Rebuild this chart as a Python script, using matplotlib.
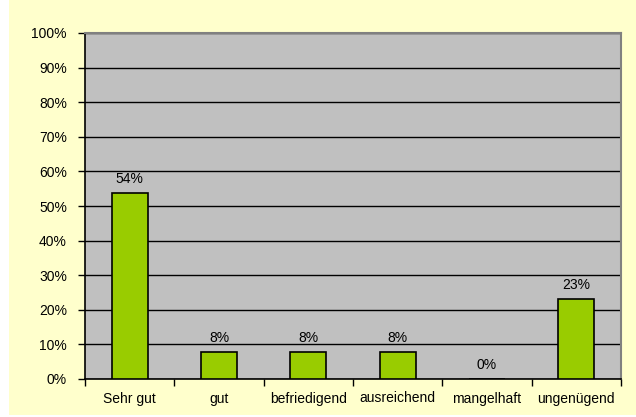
import matplotlib
matplotlib.use("Agg")
import matplotlib.pyplot as plt
from matplotlib.patches import Rectangle

categories = ["Sehr gut", "gut", "befriedigend", "ausreichend", "mangelhaft", "ungenügend"]
values = [53.8, 7.7, 7.7, 7.7, 0.0, 23.1]
labels = ["54%", "8%", "8%", "8%", "0%", "23%"]
yticks = list(range(0, 101, 10))

plt.rcParams['font.family'] = ['Liberation Sans', 'DejaVu Sans']

fig = plt.figure(figsize=(6.36, 4.17), dpi=100, facecolor="white")
fig.patches.append(Rectangle((9 / 636, 2 / 417), 1, 1, transform=fig.transFigure,
                             facecolor="#FFFFCC", edgecolor="none", zorder=-10))

ax = fig.add_axes([85 / 636, 1 - 379 / 417, 536 / 636, 346 / 417])
ax.set_facecolor("#C0C0C0")

x = list(range(len(categories)))
ax.bar(x, values, width=0.4, color="#99CC00", edgecolor="black", linewidth=1.2, zorder=3)
for xi, v, lab in zip(x, values, labels):
    ax.annotate(lab, (xi, v), xytext=(0, 5), textcoords="offset points",
                ha="center", va="bottom", fontsize=10, color="black")

ax.set_xlim(-0.5, len(categories) - 0.5)
ax.set_ylim(0, 100)
ax.set_yticks(yticks)
ax.set_yticklabels([f"{t}%" for t in yticks])
ax.yaxis.grid(True, color="black", linewidth=1.0, zorder=1)
ax.set_axisbelow(True)

ax.set_xticks([i + 0.5 for i in range(-1, len(categories))])
ax.set_xticklabels([])
ax.set_xticks(x, minor=True)
ax.set_xticklabels(categories, minor=True)
ax.tick_params(axis="x", which="minor", length=0, pad=9, labelsize=10)
ax.tick_params(axis="x", which="major", length=5, width=1, color="black", direction="out")
ax.tick_params(axis="y", length=5, width=1, color="black", pad=8, labelsize=10)

for side in ["top", "right"]:
    ax.spines[side].set_color("#808080")
    ax.spines[side].set_linewidth(1.5)
for side in ["left", "bottom"]:
    ax.spines[side].set_color("black")
    ax.spines[side].set_linewidth(1.2)

fig.savefig("out.png", dpi=100, facecolor=fig.get_facecolor())
